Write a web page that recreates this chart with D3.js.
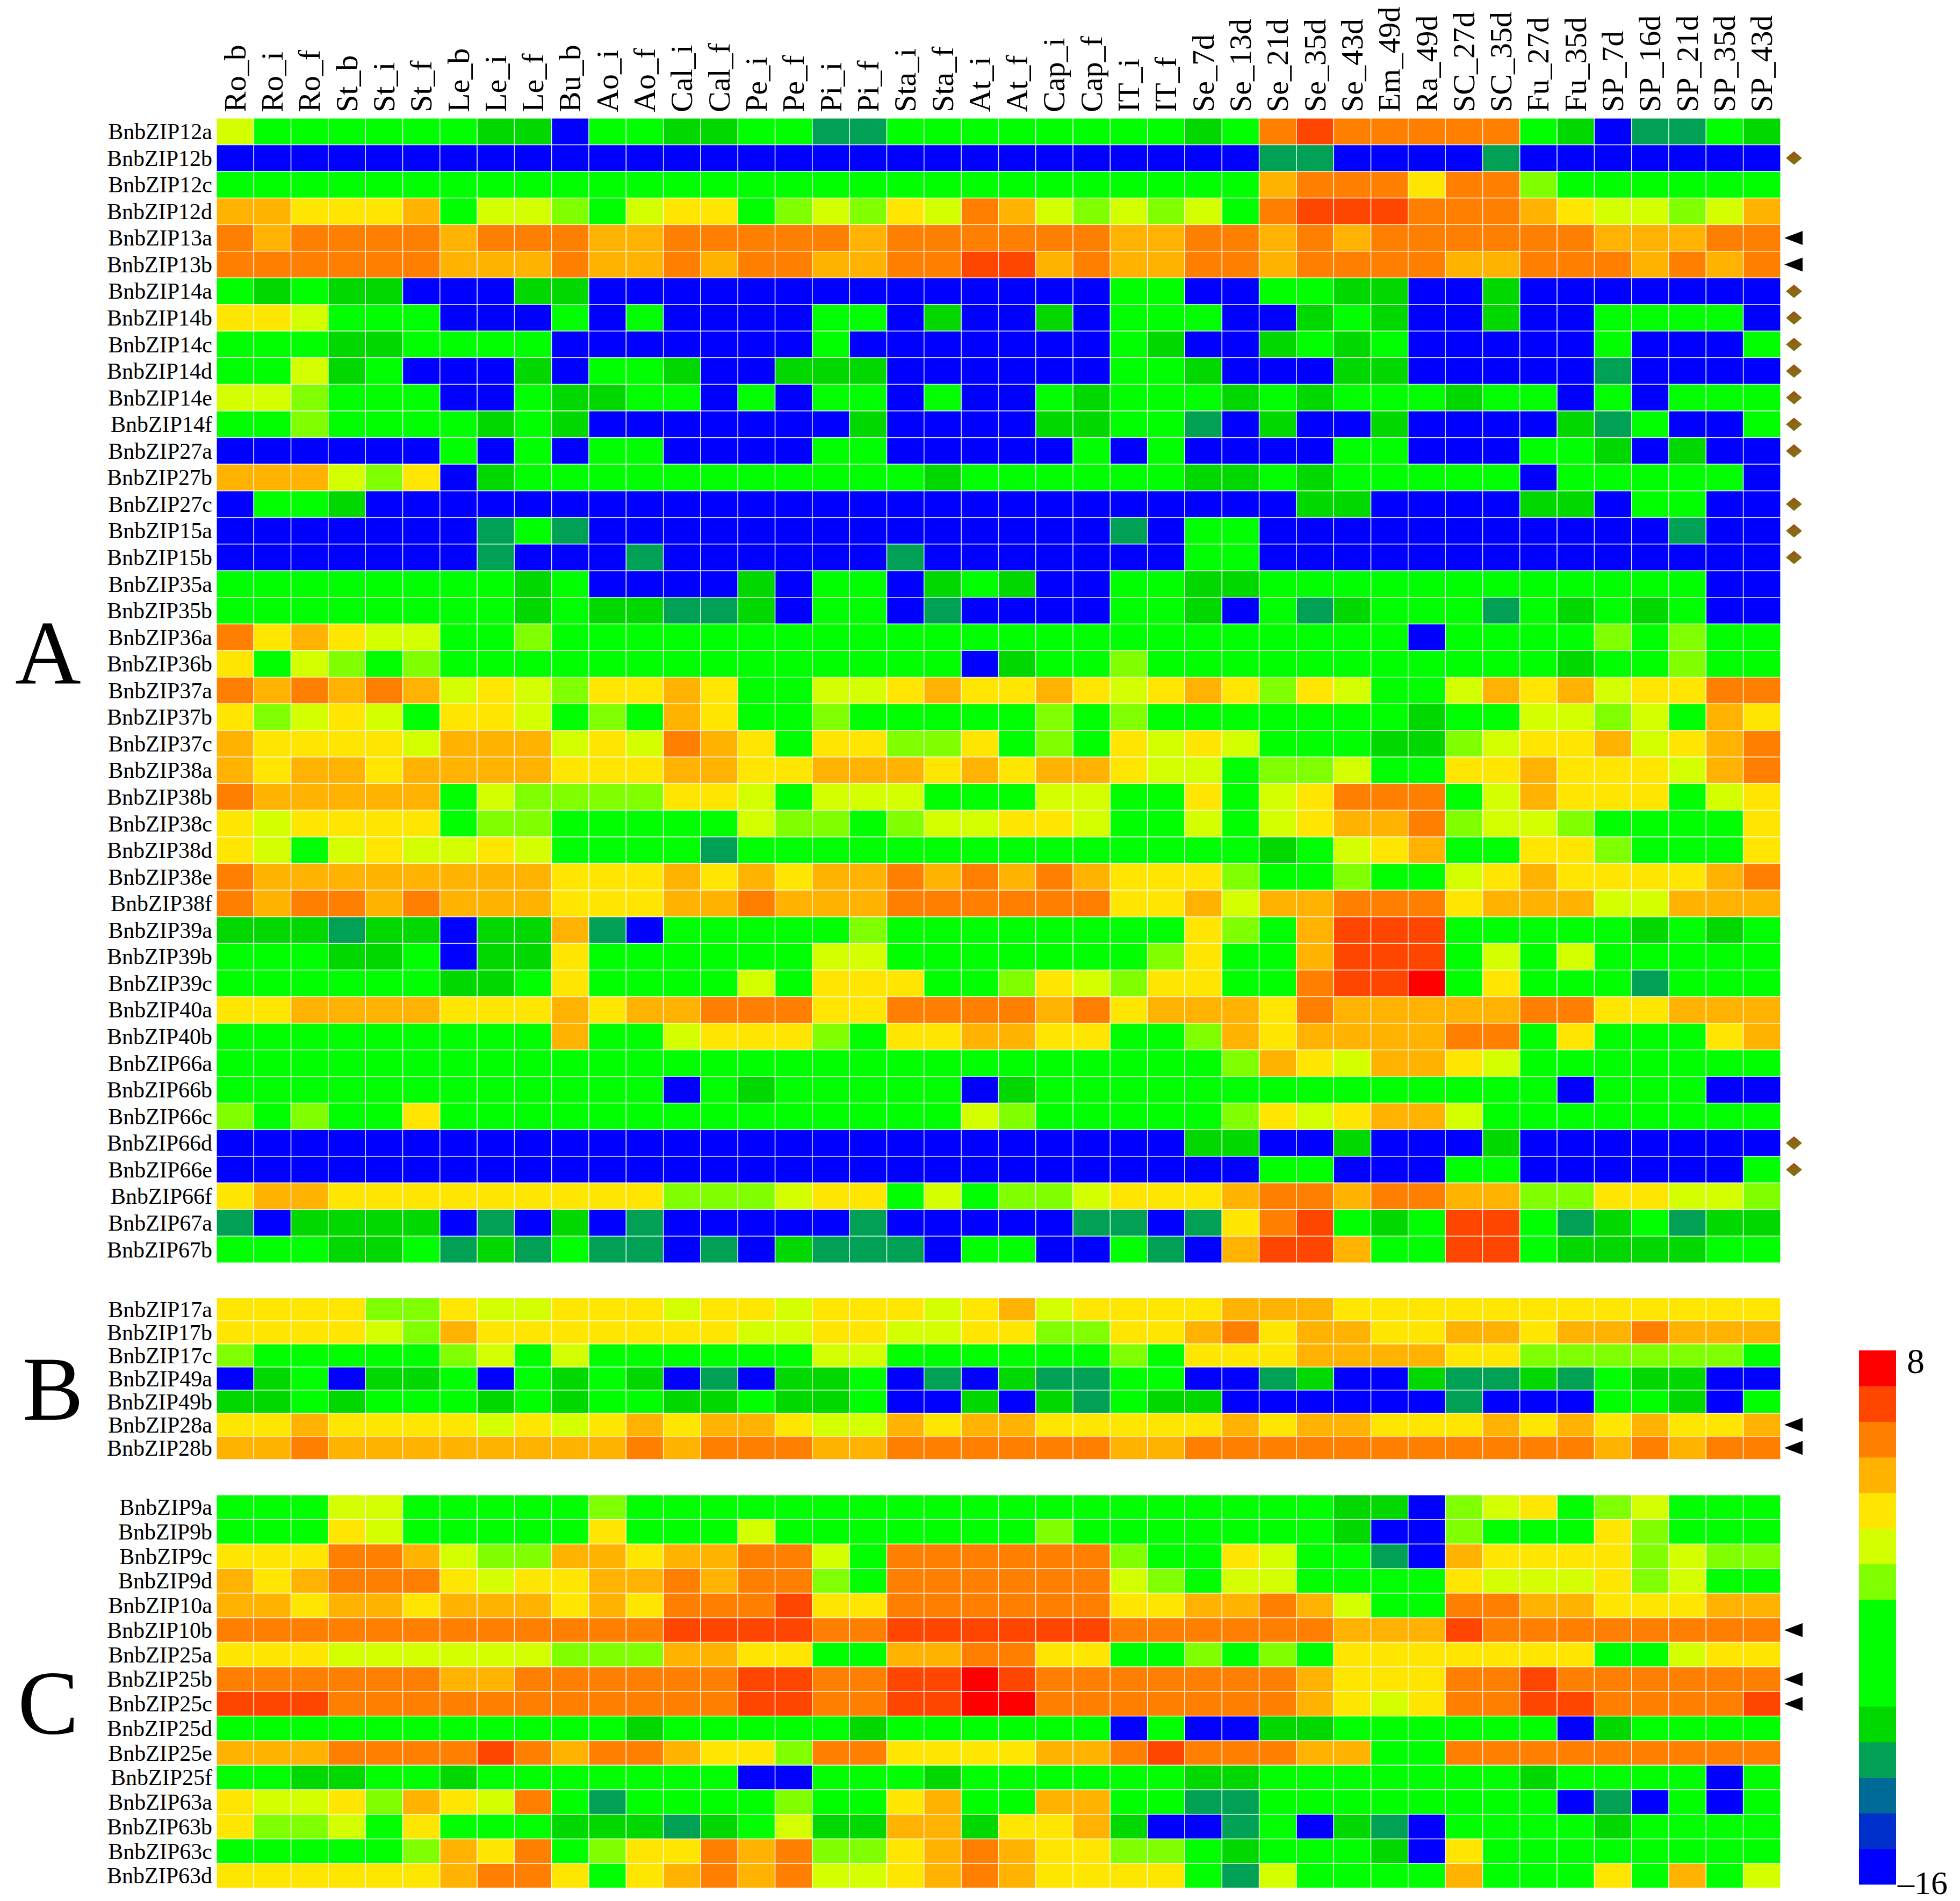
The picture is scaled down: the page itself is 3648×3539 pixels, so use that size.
<!DOCTYPE html>
<html>
<head>
<meta charset="utf-8">
<script src="https://cdn.jsdelivr.net/npm/d3@7"></script>
<style>
  body { margin: 0; background: #fff; }
  svg { display: block; }
  text { font-family: "Liberation Serif", "Times New Roman", serif; fill: #000; }
</style>
</head>
<body>
<svg id="chart" width="3648" height="3539"></svg>
<script>
// tissues / stages
const columns = ['Ro_b','Ro_i','Ro_f','St_b','St_i','St_f','Le_b','Le_i','Le_f','Bu_b','Ao_i','Ao_f',
  'Cal_i','Cal_f','Pe_i','Pe_f','Pi_i','Pi_f','Sta_i','Sta_f','At_i','At_f','Cap_i','Cap_f','IT_i','IT_f',
  'Se_7d','Se_13d','Se_21d','Se_35d','Se_43d','Em_49d','Ra_49d','SC_27d','SC_35d','Fu_27d','Fu_35d',
  'SP_7d','SP_16d','SP_21d','SP_35d','SP_43d'];

// colour-level codes -> value (log2 expression, legend -16..8)
// B blue, T teal green, D dark green, G green, L light green, W yellow green,
// Y yellow, A amber, O orange, R orange red, X red
const codeValue = { B: -15.2, T: -10.4, D: -8.8, G: -5.6, L: -2.4, W: -0.8, Y: 0.8, A: 2.4, O: 4.0, R: 5.6, X: 7.2 };

const rowsA = ['BnbZIP12a','BnbZIP12b','BnbZIP12c','BnbZIP12d','BnbZIP13a','BnbZIP13b','BnbZIP14a','BnbZIP14b',
  'BnbZIP14c','BnbZIP14d','BnbZIP14e','BnbZIP14f','BnbZIP27a','BnbZIP27b','BnbZIP27c','BnbZIP15a','BnbZIP15b',
  'BnbZIP35a','BnbZIP35b','BnbZIP36a','BnbZIP36b','BnbZIP37a','BnbZIP37b','BnbZIP37c','BnbZIP38a','BnbZIP38b',
  'BnbZIP38c','BnbZIP38d','BnbZIP38e','BnbZIP38f','BnbZIP39a','BnbZIP39b','BnbZIP39c','BnbZIP40a','BnbZIP40b',
  'BnbZIP66a','BnbZIP66b','BnbZIP66c','BnbZIP66d','BnbZIP66e','BnbZIP66f','BnbZIP67a','BnbZIP67b'];
const cellsA = [
  'WGGGGGGDDBGGDDGGTTGGG' + 'GGGGGDGOROOOOOGDBTTGD',
  'BBBBBBBBBBBBBBBBBBBBB' + 'BBBBBBBTTBBBBTBBBBBBB',
  'GGGGGGGGGGGGGGGGGGGGG' + 'GGGGGGGAOOOYOOLGGGGGG',
  'AAYYYAGWWLGWYYGLWLYWO' + 'AWLWLWGORRROOOAYWWLWA',
  'OAOOOOAOOOAAOOOOOAOOO' + 'OOOAAOOAOAOOOOOOAAAOO',
  'OOOOOOAAAOAAOAOOAAOOR' + 'RAOAAOOAOOOOAAOOOAOAO',
  'GDGDDBBBDDBBBBBBBBBBB' + 'BBBGGBBGGDDBBDBBBBBBB',
  'YYWGGGBBBGBGBBBBGGBDB' + 'BDBGGGBBDGDBBDBBGGGGB',
  'GGGDDGGGGBBBBBBBGBBBB' + 'BBBGDBBDGDGBBBBBGBBBG',
  'GGWDGBBBDBGGDBBDDDBBB' + 'BBBGGDBBBDDBBBBBTBBBB',
  'WWLGGGBBGDDGGBGBGGBGB' + 'BGDGGGDGDGGGDGGBGBGGG',
  'GGLGGGGDGDBBBBBBBDBBB' + 'BDDGGTBDBBDBBBBDTGBBG',
  'BBBBBBGBGBGGBBBBGGBBB' + 'BBGBGBBBBGGBBBGGDBDBB',
  'AAAWLYBDGGGGGGGGGGGDG' + 'GGGGGDDGDGGGGGBGGGGGB',
  'BGGDBBBBBBBBBBBBBBBBB' + 'BBBBBBBBDDBBBBDDBGGBB',
  'BBBBBBBTGTBBBBBBBBBBB' + 'BBBTBGGBBBBBBBBBBBTBB',
  'BBBBBBBTBBBTBBBBBBTBB' + 'BBBBBGGBBBBBBBBBBBBBB',
  'GGGGGGGGDGBBBBDBGGBDG' + 'DBBGGDDGGGGGGGGGGGGBB',
  'GGGGGGGGDGDDTTDBGGBTB' + 'BBBGGDBGTDGGGTGDGDGBB',
  'OYAYWWGGLGGGGGGGGGGGG' + 'GGGGGGGGGGGBGGGGLGLGG',
  'YGWLGLGGGGGGGGGGGGGGB' + 'DGGLGGGGGGGGGGGDGGLGG',
  'OAOAOAWYWLYYAYGGWWYAY' + 'YAYWYAYLYWGGWAYAWYYOO',
  'YLWYWGYYWGLGAYGGLGGGG' + 'GLGLGGGGGGGDGGWWLWGAY',
  'AYYYYWAAAWYWOAYGYYLLY' + 'GLGYWYWGGGDDLWYYAWYAO',
  'AYAAYAAAAYYYAAYYAAAYA' + 'YAAYWWGLLWGGYYAYYYWAO',
  'OAAAAAGWLLLLYYWGWWWGG' + 'GWWGGYGWYOOOGWAYYYGWY',
  'YWYYYYGLLGGGGGWLLGLWW' + 'YYWGGWGWYAAOLWWLGGGGY',
  'YWGWYWWYWGGGGTGGGGGGG' + 'GGGGGGGDGWYAGGYYLGGGY',
  'OAAAAAAAAYYYAYAYAAOAO' + 'AOAYYYLGGLGGWYAYYYYAO',
  'OAOOAOAAAYYYAAOAAAOOO' + 'OOOYYAWAAOOOYAAAWWAAA',
  'DDDTDDBDDATBGGGGGLGGG' + 'GGGGGYLGARRRGGGGGDGDG',
  'GGGDDGBDDYGGGGGGWWGGG' + 'GGGGLYGGARRRGWGWGGGGG',
  'GGGGGGDDGYGGGGWGYYYGG' + 'LYWLYYGGORRXGYGGGTGGG',
  'YYAAAAYYYAYAAOOOYYOOO' + 'OAOYAAAYOAAAAAOOYYAAA',
  'GGGGGGGGGAGGWYYYLGYYA' + 'AYYGGLAYAAAAOOGYGGGYA',
  'GGGGGGGGGGGGGGGGGGGGG' + 'GGGGGGLAYWAAYWGGGGGGG',
  'GGGGGGGGGGGGBGDGGGGGB' + 'DGGGGGGGGGGGGGGBGGGBB',
  'LGLGGYGGGGGGGGGGGGGGW' + 'LGGGGGLYWYAAWGGGGGGGG',
  'BBBBBBBBBBBBBBBBBBBBB' + 'BBBBBDDBBDBBBDBBBBBBB',
  'BBBBBBBBBBBBBBBBBBBBB' + 'BBBBBBBGGBBBGGBBBBBBG',
  'YAAYYYYYYYYYLLLWYYGWG' + 'LLWYYYAOOAOOAALLYYWWL',
  'TBDDDDBTBDBTBBBBBTBBB' + 'BBTTBTYORGDGRRGTDGTDD',
  'GGGDDGTDTGTTBTBDTTTBG' + 'GBBGTBARRAGGRRGDDDDGG'
];

const rowsB = ['BnbZIP17a','BnbZIP17b','BnbZIP17c','BnbZIP49a','BnbZIP49b','BnbZIP28a','BnbZIP28b'];
const cellsB = [
  'YYYYLLYWWYYYWYYWYYYWY' + 'AWYYYYAAAYYYYYYYYYYYY',
  'YYYYWLAYYYYYYYWWYYWWY' + 'YLLYYAOYAAYYAAYAAOAAA',
  'LGGGGGLWGWGGGGGGWWGGG' + 'GGGLGYYYAAAAYYLLLLLLG',
  'BDGBDDGBGDGDBTBDDGBTB' + 'DTTGGBBTDBBDTTDTGDDBB',
  'DDGDGGGDGDGGDDGDDGBBD' + 'BDTGDDBBBBBBTBBBGGDBG',
  'YYAYYYYWYWYAYAAYWWAYA' + 'AYYYYYAYAAYYYAYAYAYYA',
  'AAOAAAAAAAAOAOOOAAOOO' + 'OOOAAOOOOOOOOOOOAOAOO'
];

const rowsC = ['BnbZIP9a','BnbZIP9b','BnbZIP9c','BnbZIP9d','BnbZIP10a','BnbZIP10b','BnbZIP25a','BnbZIP25b',
  'BnbZIP25c','BnbZIP25d','BnbZIP25e','BnbZIP25f','BnbZIP63a','BnbZIP63b','BnbZIP63c','BnbZIP63d'];
const cellsC = [
  'GGGWWGGGGGLGGGGGGGGGG' + 'GGGGGGGGGDDBLWYGLWGGG',
  'GGGYWGGGGGYGGGWGGGGGG' + 'GLGGGGGGGDBBLGGGYLGGG',
  'YYYOOAWLLAAYAAOOWGOOO' + 'OOOLGGYWGGTBAYYYYLWLL',
  'AYAOOOYWYYAAOAOOLGOOO' + 'OOOWLGWWGGGGYWWWYLWGG',
  'AAYAAYAAAYAYOOORYYOOO' + 'OOOYYAAOAWGGOOAAYYYAA',
  'OOOOOOOOOOOORRRROORRR' + 'RRROOOOOOAAAROOOOOOOO',
  'YYYWWWWWWLLLAAYYGGAAO' + 'OYYGGLGLGYYYYYYYGGWYY',
  'OOOOOOAAOOOOOORROORRX' + 'ROOOOOOOAYYYOOROOOOOO',
  'RRROOOOOOOOOOORROORRX' + 'XOOOOOOOAYWYOORROOOOR',
  'GGGGGGGGGGGDGGGGGDGGG' + 'GGGBGBBDDGGGGGGBDGGGG',
  'AAAOOOOROAOOAYYLOOYYY' + 'YAAOROOOAAGGOOOOOOOOO',
  'GGDDGGDGGGGGGGBBGGGDG' + 'GGGGGDDGGGGGGGDGGGGBG',
  'YWWYLAYWOGTGGGGLGGYAG' + 'GAAGGTTGGGGGGGGBTBGBG',
  'YLLWGYGGGDDDTDGWDDAAD' + 'YYADBBTGBDTBGGGGDGGGG',
  'GGGGGLAYOGLYYOAOLLYAO' + 'AYYLLGDGGGDBYGGGGGGGG',
  'YYYYYYAOOYGYAOAOWWYAO' + 'AYYYYGTWGGGGAGGGYGAGW'
];

// right-hand markers
const diamondRows = ['BnbZIP12b','BnbZIP14a','BnbZIP14b','BnbZIP14c','BnbZIP14d','BnbZIP14e','BnbZIP14f',
  'BnbZIP27a','BnbZIP27c','BnbZIP15a','BnbZIP15b','BnbZIP66d','BnbZIP66e'];
const arrowRows = ['BnbZIP13a','BnbZIP13b','BnbZIP28a','BnbZIP28b','BnbZIP10b','BnbZIP25b','BnbZIP25c'];

const legendMin = -16, legendMax = 8;
const palette = ['#0000ff','#0030cc','#006a96','#00a055','#00d800','#00ff00','#00ff00','#00ff00',
  '#7fff00','#d4ff00','#ffe600','#ffb200','#ff7f00','#ff4600','#ff0000'];

const svg = d3.select('#chart');
const color = d3.scaleQuantize().domain([legendMin, legendMax]).range(palette);
const x = d3.scaleBand().domain(columns).range([403, 3314]);

const sections = [
  { letter: 'A', rows: rowsA, cells: cellsA, top: 220, bottom: 2351, lx: 28, ly: 1273 },
  { letter: 'B', rows: rowsB, cells: cellsB, top: 2416, bottom: 2717, lx: 42, ly: 2643 },
  { letter: 'C', rows: rowsC, cells: cellsC, top: 2783, bottom: 3515, lx: 33, ly: 3227 }
];

// marker gradient (brown top, olive bottom)
const grad = svg.append('defs').append('linearGradient')
  .attr('id', 'dia').attr('x1', 0).attr('y1', 0).attr('x2', 0).attr('y2', 1);
grad.append('stop').attr('offset', 0).attr('stop-color', '#a2481a');
grad.append('stop').attr('offset', 0.5).attr('stop-color', '#8a6a12');
grad.append('stop').attr('offset', 1).attr('stop-color', '#7a7010');

// column labels
svg.append('g').selectAll('text').data(columns).enter().append('text')
  .attr('transform', d => `translate(${x(d) + x.bandwidth() / 2 + 19},209) rotate(-90)`)
  .attr('font-size', 58)
  .text(d => d);

const markG = svg.append('g');

sections.forEach(s => {
  const y = d3.scaleBand().domain(s.rows).range([s.top, s.bottom]);
  const data = s.rows.flatMap((r, i) => columns.map((c, j) => ({ r, c, v: codeValue[s.cells[i][j]] })));
  const g = svg.append('g');

  g.selectAll('rect').data(data).enter().append('rect')
    .attr('x', d => x(d.c))
    .attr('y', d => y(d.r))
    .attr('width', x.bandwidth())
    .attr('height', y.bandwidth())
    .attr('fill', d => color(d.v))
    .attr('stroke', 'rgba(255,255,255,0.75)')
    .attr('stroke-width', 1.6);

  g.selectAll('text.row').data(s.rows).enter().append('text')
    .attr('class', 'row')
    .attr('x', 395)
    .attr('y', d => y(d) + y.bandwidth() / 2)
    .attr('dy', '0.34em')
    .attr('text-anchor', 'end')
    .attr('font-size', 42)
    .text(d => d);

  svg.append('text')
    .attr('x', s.lx).attr('y', s.ly)
    .attr('font-size', 170)
    .text(s.letter);

  markG.selectAll(null).data(s.rows.filter(r => diamondRows.includes(r))).enter().append('path')
    .attr('transform', d => `translate(3339,${y(d) + y.bandwidth() / 2})`)
    .attr('d', 'M-15,0L0,-12.5L15,0L0,12.5Z')
    .attr('fill', 'url(#dia)');
  markG.selectAll(null).data(s.rows.filter(r => arrowRows.includes(r))).enter().append('path')
    .attr('transform', d => `translate(3343,${y(d) + y.bandwidth() / 2})`)
    .attr('d', 'M-22,0L12,-13L12,13Z')
    .attr('fill', '#000');
});

// colour legend
const ly = d3.scaleLinear().domain([legendMin, legendMax]).range([3508, 2514]);
const edges = [legendMin, ...color.thresholds(), legendMax];
const bins = d3.pairs(edges);
const legG = svg.append('g');
legG.selectAll('rect').data(bins).enter().append('rect')
  .attr('x', 3460)
  .attr('y', d => ly(d[1]))
  .attr('width', 69)
  .attr('height', d => ly(d[0]) - ly(d[1]) + 0.5)
  .attr('fill', d => color((d[0] + d[1]) / 2));
legG.append('text').attr('x', 3549).attr('y', 2556).attr('font-size', 66).text(legendMax);
legG.append('text').attr('x', 3532).attr('y', 3526).attr('font-size', 62).text('\u201316');
</script>
</body>
</html>
